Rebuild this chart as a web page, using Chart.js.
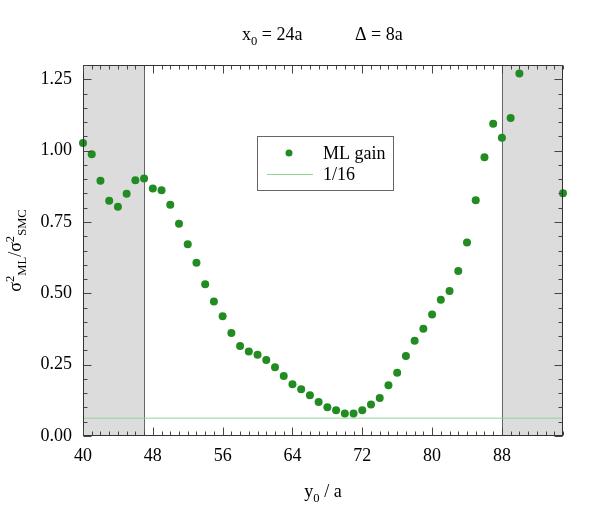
<!DOCTYPE html>
<html>
<head>
<meta charset="utf-8">
<script src="https://cdn.jsdelivr.net/npm/chart.js@4"></script>
<style>
  html, body { margin: 0; padding: 0; background: #fff; }
  #wrap { width: 600px; height: 525px; }
</style>
</head>
<body>
<div id="wrap"><canvas id="myChart" width="600" height="525"></canvas></div>
<script>
// data

const yPositions = [40, 41, 42, 43, 44, 45, 46, 47, 48, 49, 50, 51, 52, 53, 54, 55, 56, 57, 58, 59,
    60, 61, 62, 63, 64, 65, 66, 67, 68, 69, 70, 71, 72, 73, 74, 75, 76, 77, 78, 79,
    80, 81, 82, 83, 84, 85, 86, 87, 88, 89, 90, 95];
const mlGain = [1.027, 0.987, 0.894, 0.824, 0.803, 0.849, 0.896, 0.902, 0.867, 0.861,
    0.810, 0.744, 0.672, 0.607, 0.532, 0.471, 0.420, 0.361, 0.315, 0.296,
    0.285, 0.266, 0.241, 0.210, 0.181, 0.164, 0.143, 0.119, 0.101, 0.090,
    0.079, 0.079, 0.090, 0.110, 0.133, 0.178, 0.222, 0.280, 0.334, 0.376,
    0.426, 0.477, 0.508, 0.578, 0.678, 0.826, 0.977, 1.094, 1.045, 1.114,
    1.270, 0.851];
const refLineX = [40, 95];
const refLineY = [1 / 16, 1 / 16];
const shadedRanges = [[40, 47], [88, 95]];
const xTicks = [40, 48, 56, 64, 72, 80, 88];
const yTicks = [0, 0.25, 0.5, 0.75, 1.0, 1.25];
const xMinorStep = 1;
const yMinorStep = 0.05;

const serif = '"Liberation Serif", "Times New Roman", serif';
const dotColor = '#228b22';
const refColor = '#94d494';

// pieces of text with sub/superscripts
function drawRich(ctx, parts, x, y, size) {
    let cx = x;
    parts.forEach((p) => {
        let fs = size, dy = 0;
        if (p.sub) { fs = size * 0.7; dy = size * 0.3; }
        if (p.sup) { fs = size * 0.7; dy = -size * 0.4; }
        ctx.font = fs + 'px ' + serif;
        ctx.fillText(p.t, cx, y + dy);
        cx += ctx.measureText(p.t).width;
    });
    return cx - x;
}
function richWidth(ctx, parts, size) {
    let w = 0;
    parts.forEach((p) => {
        let fs = (p.sub || p.sup) ? size * 0.7 : size;
        ctx.font = fs + 'px ' + serif;
        w += ctx.measureText(p.t).width;
    });
    return w;
}

// shading behind the dots
const shadePlugin = {
    id: 'shade',
    beforeDatasetsDraw(chart) {
        const {ctx, chartArea: a, scales: {x}} = chart;
        ctx.save();
        shadedRanges.forEach(([lo, hi]) => {
            const x0 = x.getPixelForValue(lo), x1 = x.getPixelForValue(hi);
            ctx.fillStyle = '#dcdcdc';
            ctx.fillRect(x0, a.top, x1 - x0, a.bottom - a.top);
            ctx.strokeStyle = '#666';
            ctx.lineWidth = 1;
            [lo, hi].forEach((v) => {
                if (v === x.min || v === x.max) return;
                const px = Math.round(x.getPixelForValue(v)) + 0.5;
                ctx.beginPath();
                ctx.moveTo(px, a.top);
                ctx.lineTo(px, a.bottom);
                ctx.stroke();
            });
        });
        ctx.restore();
    }
};

// frame, inward ticks, legend, titles
const framePlugin = {
    id: 'frame',
    afterDatasetsDraw(chart) {
        const {ctx, chartArea: a, scales: {x, y}} = chart;
        const L = Math.round(a.left) + 0.5, R = Math.round(a.right) - 0.5;
        const T = Math.round(a.top) + 0.5, B = Math.round(a.bottom) - 0.5;
        ctx.save();
        ctx.strokeStyle = '#333';
        ctx.lineWidth = 1;
        ctx.strokeRect(L, T, R - L, B - T);

        ctx.strokeStyle = '#444';
        ctx.beginPath();
        for (let v = x.min; v <= x.max + 1e-9; v += xMinorStep) {
            const px = Math.round(x.getPixelForValue(v)) + 0.5;
            const len = xTicks.includes(v) ? 8 : 4;
            ctx.moveTo(px, B); ctx.lineTo(px, B - len);
            ctx.moveTo(px, T); ctx.lineTo(px, T + len);
        }
        for (let i = 0; i * yMinorStep <= y.max + 1e-9; i++) {
            const v = i * yMinorStep;
            const py = Math.round(y.getPixelForValue(v)) + 0.5;
            const len = (i % 5 === 0) ? 8 : 4;
            ctx.moveTo(L, py); ctx.lineTo(L + len, py);
            ctx.moveTo(R, py); ctx.lineTo(R - len, py);
        }
        ctx.stroke();

        // legend
        ctx.fillStyle = '#fff';
        ctx.fillRect(257, 136, 136, 54);
        ctx.strokeStyle = '#666';
        ctx.strokeRect(257.5, 136.5, 136, 54);
        ctx.fillStyle = dotColor;
        ctx.beginPath();
        ctx.arc(289, 153, 3.5, 0, Math.PI * 2);
        ctx.fill();
        ctx.strokeStyle = refColor;
        ctx.beginPath();
        ctx.moveTo(267, 174.5); ctx.lineTo(313, 174.5);
        ctx.stroke();
        ctx.fillStyle = '#000';
        ctx.textBaseline = 'alphabetic';
        ctx.textAlign = 'left';
        ctx.font = '18px ' + serif;
        ctx.fillText('ML gain', 323, 159);
        ctx.fillText('1/16', 323, 180);

        // top title
        drawRich(ctx, [{t: 'x'}, {t: '0', sub: true}, {t: ' = 24a'}], 242, 40, 18);
        drawRich(ctx, [{t: 'Δ = 8a'}], 355, 40, 18);

        // x axis title
        const xt = [{t: 'y'}, {t: '0', sub: true}, {t: ' / a'}];
        drawRich(ctx, xt, 323 - richWidth(ctx, xt, 18) / 2, 497, 18);

        // y axis title
        const yt = [{t: 'σ'}, {t: '2', sup: true}, {t: 'ML', sub: true}, {t: '/σ'}, {t: '2', sup: true}, {t: 'SMC', sub: true}];
        ctx.translate(21, (a.top + a.bottom) / 2);
        ctx.rotate(-Math.PI / 2);
        drawRich(ctx, yt, -richWidth(ctx, yt, 18) / 2, 0, 18);
        ctx.restore();
    }
};

const myChart = document.getElementById('myChart').getContext('2d');

let gainChart = new Chart(myChart, {
    type: 'scatter',
    data: {
        datasets: [{
            label: 'ML gain',
            data: yPositions.map((v, i) => ({x: v, y: mlGain[i]})),
            backgroundColor: dotColor,
            borderColor: dotColor,
            pointRadius: 4,
            pointBorderWidth: 0,
            showLine: false,
            clip: false
        }, {
            label: '1/16',
            data: refLineX.map((v, i) => ({x: v, y: refLineY[i]})),
            borderColor: refColor,
            borderWidth: 1,
            pointRadius: 0,
            showLine: true
        }]
    },
    options: {
        responsive: false,
        animation: false,
        events: [],
        layout: {padding: {left: 0, right: 37, top: 65, bottom: 0}},
        plugins: {
            legend: {display: false},
            tooltip: {enabled: false}
        },
        scales: {
            x: {
                type: 'linear',
                min: 40,
                max: 95,
                grid: {display: false, drawTicks: false},
                border: {display: false},
                afterBuildTicks: (s) => { s.ticks = xTicks.map((v) => ({value: v})); },
                afterFit: (s) => { s.height = 89; },
                ticks: {
                    padding: 9,
                    color: '#000',
                    font: {family: serif, size: 18},
                    maxRotation: 0,
                    callback: (v) => String(v)
                }
            },
            y: {
                type: 'linear',
                min: 0,
                max: 1.30,
                grid: {display: false, drawTicks: false},
                border: {display: false},
                afterBuildTicks: (s) => { s.ticks = yTicks.map((v) => ({value: v})); },
                afterFit: (s) => { s.width = 83; },
                ticks: {
                    padding: 11,
                    color: '#000',
                    font: {family: serif, size: 18},
                    callback: (v) => v.toFixed(2)
                }
            }
        }
    },
    plugins: [shadePlugin, framePlugin]
});
</script>
</body>
</html>
